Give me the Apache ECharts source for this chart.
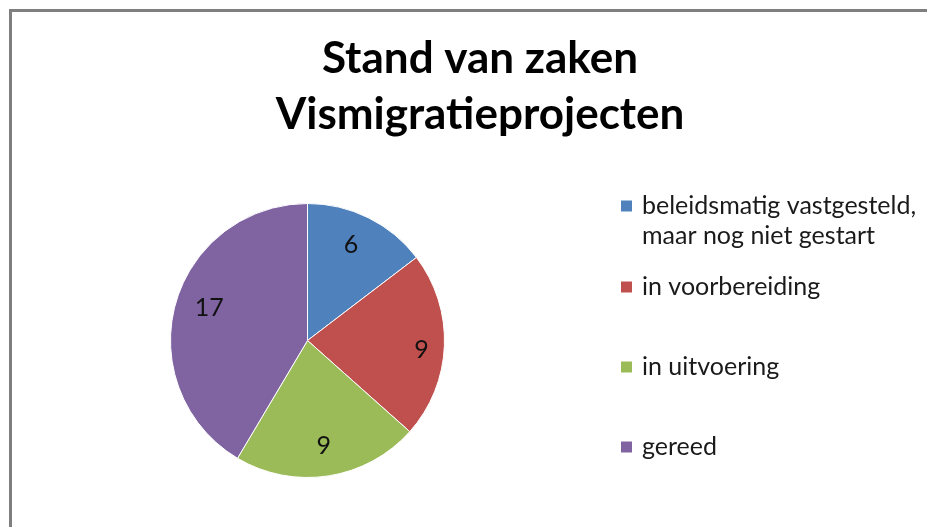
<!DOCTYPE html>
<html>
<head>
<meta charset="utf-8">
<script src="https://cdn.jsdelivr.net/npm/echarts@6/dist/echarts.min.js"></script>
<style>
  html, body { margin: 0; padding: 0; background: #ffffff; overflow: hidden; }
  #chart { width: 927px; height: 527px; }
</style>
</head>
<body>
<div id="chart"></div>
<script>
// Project status counts
const titleLines = ['Stand van zaken', 'Vismigratieprojecten'];
const categories = [
  'beleidsmatig vastgesteld,\nmaar nog niet gestart',
  'in voorbereiding',
  'in uitvoering',
  'gereed'
];
const counts = [6, 9, 9, 17];
const colors = ['#4F81BD', '#C0504D', '#9BBB59', '#8064A2'];
// small nudges of the value labels inside their slices:
// horizontal padding shifts the box sideways, blank lines shift it up or down
const labelPads = [[0, 8, 0, 0], [0, 0, 0, 14], [0, 0, 0, 0], [0, 0, 0, 10]];
const labelFormats = ['{c}', ' \n{c}', '{c}', '{c}\n '];
const labelLineHeights = [25, 10, 25, 8];

const FONT = 'Lato, "Noto Sans", sans-serif';
const pieData = categories.map((name, i) => ({ name: name, value: counts[i] }));
const labelData = categories.map((name, i) => ({
  name: name,
  value: counts[i],
  label: {
    padding: labelPads[i],
    formatter: labelFormats[i],
    lineHeight: labelLineHeights[i]
  }
}));

const center = [307.5, 340.5];
const radius = 137;

// one legend block per entry so each swatch sits at its own height
const legendTops = [161, 272, 352, 432];
const legends = categories.map((name, i) => ({
  data: [name],
  orient: 'vertical',
  left: 619,
  top: legendTops[i],
  padding: 0,
  itemWidth: 13,
  itemHeight: 13,
  itemGap: 0,
  icon: 'rect',
  selectedMode: false,
  formatter: function (n) {
    // pad multi-line names so the swatch lines up with the first line
    return n.indexOf('\n') >= 0 ? ' \n' + n : n;
  },
  textStyle: {
    fontFamily: FONT,
    fontSize: 25,
    color: '#1a1a1a',
    lineHeight: 30,
    padding: [0, 0, 0, 4]
  }
}));

const chart = echarts.init(document.getElementById('chart'), null, { renderer: 'canvas' });
chart.setOption({
  backgroundColor: '#ffffff',
  animation: false,
  color: colors,
  title: {
    text: titleLines.join('\n'),
    left: 475,
    top: 26,
    textAlign: 'center',
    textStyle: {
      fontFamily: FONT,
      fontSize: 44,
      fontWeight: 'bold',
      color: '#000000',
      lineHeight: 56
    }
  },
  legend: legends,
  graphic: [
    {
      // frame edges: top and left
      type: 'line',
      silent: true,
      shape: { x1: 9, y1: 10.5, x2: 927, y2: 10.5 },
      style: { stroke: '#7f7f7f', lineWidth: 3 }
    },
    {
      type: 'line',
      silent: true,
      shape: { x1: 10.5, y1: 9, x2: 10.5, y2: 527 },
      style: { stroke: '#7f7f7f', lineWidth: 3 }
    }
  ],
  series: [
    {
      type: 'pie',
      center: center,
      radius: [0, radius],
      startAngle: 90,
      clockwise: true,
      label: { show: false },
      labelLine: { show: false },
      itemStyle: { borderColor: '#ffffff', borderWidth: 1 },
      emphasis: { disabled: true },
      data: pieData
    },
    {
      // transparent twin ring that carries the value labels near the rim
      type: 'pie',
      center: center,
      radius: [0, radius * 1.52],
      startAngle: 90,
      clockwise: true,
      silent: true,
      legendHoverLink: false,
      itemStyle: { color: 'rgba(0,0,0,0)', borderWidth: 0 },
      label: {
        show: true,
        position: 'inside',
        formatter: '{c}',
        fontFamily: FONT,
        fontSize: 25,
        color: '#111111'
      },
      labelLine: { show: false },
      emphasis: { disabled: true },
      data: labelData
    }
  ]
});
</script>
</body>
</html>
